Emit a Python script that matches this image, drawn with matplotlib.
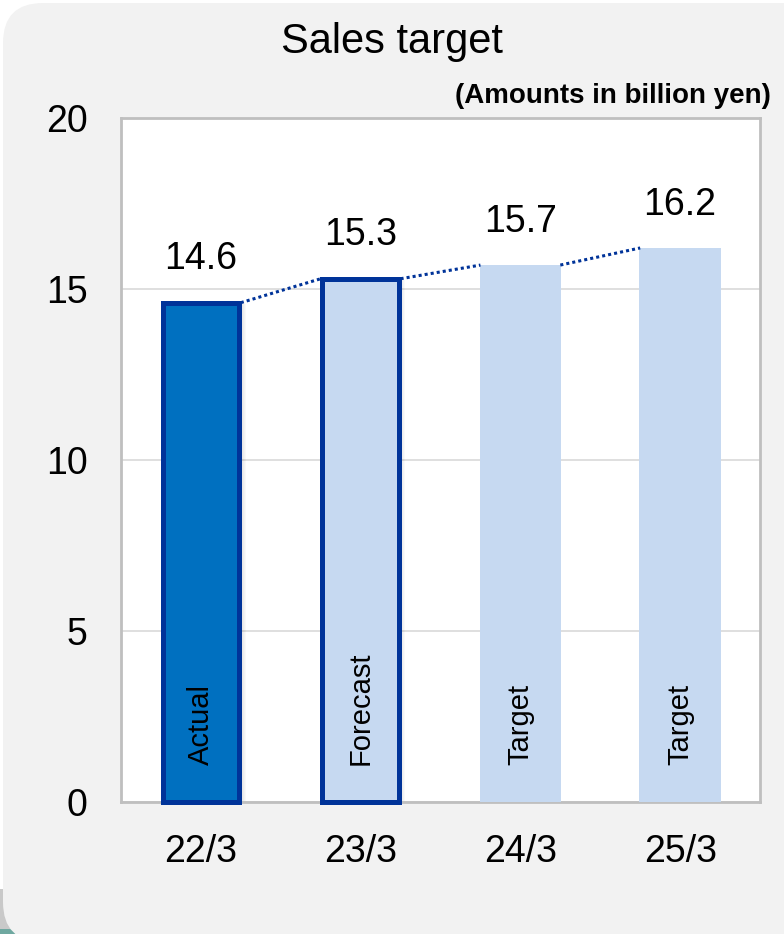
import matplotlib
matplotlib.use("Agg")
import matplotlib.pyplot as plt
from matplotlib.patches import FancyBboxPatch, Rectangle

plt.rcParams["font.family"] = ["Liberation Sans", "DejaVu Sans"]

# Fiscal years and sales (billion yen)
periods = ["22/3", "23/3", "24/3", "25/3"]
sales = [14.6, 15.3, 15.7, 16.2]
status = ["Actual", "Forecast", "Target", "Target"]

W, H, DPI = 784, 934, 100
fig = plt.figure(figsize=(W / DPI, H / DPI), dpi=DPI, facecolor="white")

# Rounded light-gray panel behind the chart
fig.patches.append(Rectangle((0, 0), 40 / W, 45 / H, transform=fig.transFigure,
                             facecolor="#c9c9c9", edgecolor="none", zorder=0))
fig.patches.append(Rectangle((0, 0), 40 / W, 5 / H, transform=fig.transFigure,
                             facecolor="#6fa8a0", edgecolor="none", zorder=0))
panel = FancyBboxPatch((3, -8), W + 40, H - 3 + 8, boxstyle="round,pad=0,rounding_size=40",
                       transform=None, facecolor="#f2f2f2", edgecolor="none", zorder=1)
fig.patches.append(panel)

ax = fig.add_axes([121 / W, 1 - 802 / H, (760 - 121) / W, (802 - 118) / H], zorder=2)
ax.set_facecolor("white")

x = list(range(len(periods)))
bw = 0.5
dark = "#003399"
fills = ["#0070c0", "#c6d9f1", "#c6d9f1", "#c6d9f1"]
edged = [True, True, False, False]

# soft shadow to the right of outlined bars
for i, v in enumerate(sales):
    if edged[i]:
        for k in range(1, 6):
            ax.add_patch(Rectangle((i - bw / 2 + k * 0.006, 0), bw, v - 0.05,
                                   facecolor="black", alpha=0.025, edgecolor="none", zorder=2))

for i, v in enumerate(sales):
    if edged[i]:
        ax.bar(i, v, width=bw - 0.02, color=fills[i], edgecolor=dark, linewidth=3.6,
               zorder=3, clip_on=False)
    else:
        ax.bar(i, v, width=bw + 0.01, color=fills[i], edgecolor="none", zorder=3)

# dotted connectors between bar tops
for i in range(len(sales) - 1):
    x0 = i + bw / 2
    x1 = i + 1 - bw / 2
    ax.plot([x0, x1], [sales[i], sales[i + 1]], linestyle=(0, (1, 1)), color=dark,
            linewidth=2.2, zorder=4)

# value labels
for i, v in enumerate(sales):
    ax.annotate(f"{v:.1f}", (i, v), xytext=(0, 24), textcoords="offset points",
                ha="center", va="baseline", fontsize=27, color="black", zorder=5)

# status labels inside bars
for i, s in enumerate(status):
    ax.text(i, 1.08, s, rotation=90, ha="center", va="bottom", fontsize=21,
            color="black", zorder=5)

ax.set_xlim(-0.5, 3.5)
ax.set_ylim(0, 20)
ax.set_yticks([0, 5, 10, 15, 20])
ax.set_xticks(x)
ax.set_xticklabels(periods)
ax.tick_params(axis="both", length=0, labelsize=27)
ax.tick_params(axis="y", pad=24)
ax.tick_params(axis="x", pad=23)
ax.yaxis.grid(True, color="#d9d9d9", linewidth=1.2, zorder=0)
ax.set_axisbelow(True)
for sp in ax.spines.values():
    sp.set_color("#bfbfbf")
    sp.set_linewidth(2)

fig.text(392 / W, 1 - 53 / H, "Sales target", ha="center", va="baseline",
         fontsize=30, color="black", zorder=3)
fig.text(771 / W, 1 - 103 / H, "(Amounts in billion yen)", ha="right", va="baseline",
         fontsize=20, fontweight="bold", color="black", zorder=3)

fig.savefig("out.png", dpi=DPI, facecolor=fig.get_facecolor())
